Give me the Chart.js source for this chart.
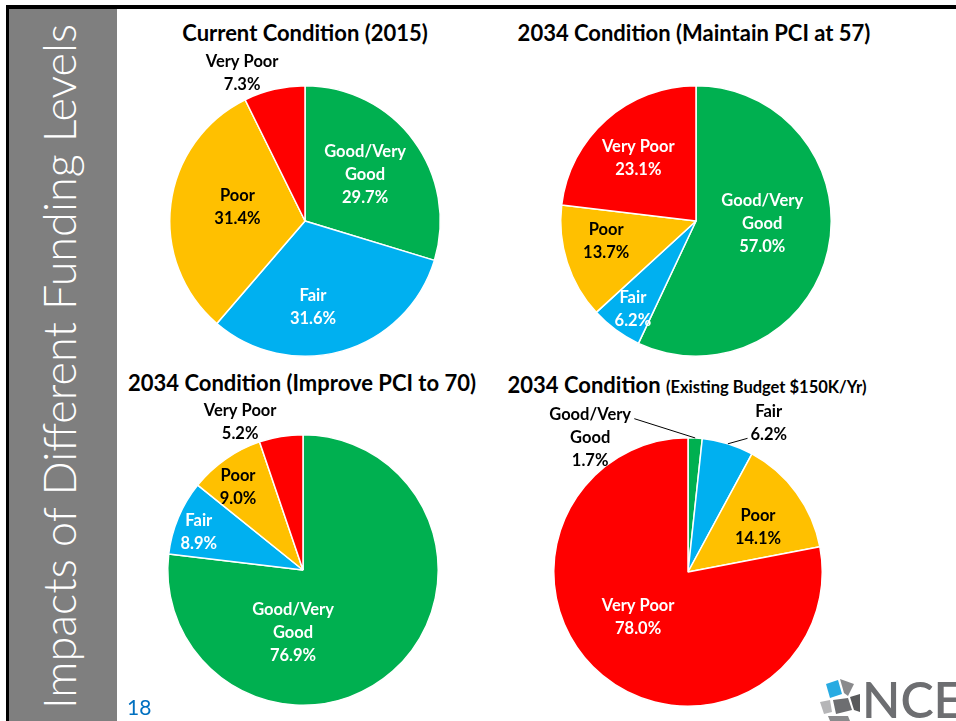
<!DOCTYPE html>
<html>
<head>
<meta charset="utf-8">
<script src="https://cdn.jsdelivr.net/npm/chart.js@4.4.1/dist/chart.umd.min.js"></script>
<style>
  html, body { margin: 0; padding: 0; }
  body { width: 956px; height: 721px; position: relative; overflow: hidden; background: #fff; font-family: Lato, "Open Sans", sans-serif; }
  .frame-top { position: absolute; left: 6px; top: 5px; width: 950px; height: 4px; background: #000; }
  .frame-left { position: absolute; left: 6px; top: 5px; width: 3px; height: 716px; background: #000; }
  .sidebar { position: absolute; left: 9px; top: 9px; width: 108px; height: 712px; background: #7f7f7f; }
  .side-text { position: absolute; left: 0; top: 0; width: 721px; white-space: nowrap; text-align: center;
    color: #fff; font-weight: 300; font-size: 45px; line-height: 45px;
    transform-origin: 0 0; transform: translate(37px, 727px) rotate(-90deg); }
  .title { position: absolute; transform: translateX(-50%); white-space: nowrap; font-weight: bold; font-size: 22px; color: #000; }
  .title small { font-size: 16.5px; }
  canvas { position: absolute; }
  .page { position: absolute; left: 127px; top: 694px; color: #0070c0; font-size: 21px; }
  .logo { position: absolute; left: 818px; top: 676px; }
</style>
</head>
<body>
<div class="frame-top"></div>
<div class="frame-left"></div>
<div class="sidebar"></div>
<div class="side-text">Impacts of Different Funding Levels</div>

<div class="title" style="left:305px; top:19px;">Current Condition (2015)</div>
<div class="title" style="left:694px; top:19px;">2034 Condition (Maintain PCI at 57)</div>
<div class="title" style="left:302px; top:369px;">2034 Condition (Improve PCI to 70)</div>
<div class="title" style="left:687px; top:371px;">2034 Condition <small>(Existing Budget $150K/Yr)</small></div>

<canvas id="pie1" width="420" height="360"></canvas>
<canvas id="pie2" width="420" height="360"></canvas>
<canvas id="pie3" width="420" height="360"></canvas>
<canvas id="pie4" width="420" height="360"></canvas>

<div class="page">18</div>
<svg class="logo" width="140" height="45" viewBox="0 0 140 45">
  <polygon points="8,8 20,4 24,18 12,22" fill="#29abe2"/>
  <polygon points="22,3 36,8 30,20 26,17" fill="#8a8a8c"/>
  <polygon points="2,26 12,24 14,36 6,38" fill="#b5b5b7"/>
  <polygon points="15,24 30,22 34,34 18,38" fill="#6d6e71"/>
  <polygon points="32,21 42,18 42,36 36,34" fill="#58595b"/>
  <polygon points="10,40 30,40 32,45 12,45" fill="#8a8a8c"/>
  <text x="44" y="42" font-family="Lato, sans-serif" font-size="50" font-weight="600" fill="#6d6e71">NCE</text>
</svg>

<script>
const categories = ['Good/Very Good', 'Fair', 'Poor', 'Very Poor'];
const current2015 = [29.7, 31.6, 31.4, 7.3];
const maintain57 = [57.0, 6.2, 13.7, 23.1];
const improve70 = [76.9, 8.9, 9.0, 5.2];
const existingBudget = [1.7, 6.2, 14.1, 78.0];
const sliceColors = ['#00B050', '#00B0F0', '#FFC000', '#FF0000'];

// label placement: angle (deg clockwise from 12 o'clock) and distance as a fraction of radius
const place1 = [{ a: 52.5, f: 0.56 }, { a: 174.7, f: 0.64 }, { a: 281.6, f: 0.51 }, { a: 337, f: 1.19, out: true }];
const place2 = [{ a: 92.6, f: 0.49 }, { a: 215.7, f: 0.80 }, { a: 257.6, f: 0.68 }, { a: 317.4, f: 0.63 }];
const place3 = [{ a: 189, f: 0.47 }, { a: 290, f: 0.82 }, { a: 322, f: 0.78 }, { a: 337, f: 1.19, out: true }];
const place4 = [
    { a: 324, f: 1.24, out: true, lead: { a: 340.7, f: 1.21 } },
    { a: 28.5, f: 1.26, out: true, lead: { a: 24, f: 1.09 } },
    { a: 57.3, f: 0.62 },
    { a: 228, f: 0.50 }
];

const wrap = (name) => name.includes('/') ? name.split(' ') : [name];

const sliceLabels = {
    id: 'sliceLabels',
    afterDatasetsDraw(chart, args, opts) {
        const ctx = chart.ctx;
        const meta = chart.getDatasetMeta(0);
        const values = chart.data.datasets[0].data;
        ctx.save();
        ctx.font = 'bold 16.5px Lato, sans-serif';
        ctx.textAlign = 'center';
        ctx.textBaseline = 'middle';
        meta.data.forEach((arc, i) => {
            const p = opts.place[i];
            const r = arc.outerRadius;
            const ang = (p.a - 90) * Math.PI / 180;
            const x = arc.x + Math.cos(ang) * r * p.f;
            const y = arc.y + Math.sin(ang) * r * p.f;
            if (p.lead) {
                const mid = (arc.startAngle + arc.endAngle) / 2;
                const la = (p.lead.a - 90) * Math.PI / 180;
                ctx.strokeStyle = '#000';
                ctx.lineWidth = 1;
                ctx.beginPath();
                ctx.moveTo(arc.x + Math.cos(mid) * r, arc.y + Math.sin(mid) * r);
                ctx.lineTo(arc.x + Math.cos(la) * r * p.lead.f, arc.y + Math.sin(la) * r * p.lead.f);
                ctx.stroke();
            }
            const lines = wrap(chart.data.labels[i]).concat([values[i].toFixed(1) + '%']);
            ctx.fillStyle = (p.out || i === 2) ? '#000' : '#fff';
            const lh = 23;
            lines.forEach((t, k) => {
                ctx.fillText(t, x, y + (k - (lines.length - 1) / 2) * lh);
            });
        });
        ctx.restore();
    }
};

function makePie(id, values, place, cx, cy, r) {
    const canvas = document.getElementById(id);
    canvas.style.left = (cx - 210) + 'px';
    canvas.style.top = (cy - 190) + 'px';
    return new Chart(canvas.getContext('2d'), {
        type: 'pie',
        data: {
            labels: categories,
            datasets: [{
                data: values,
                backgroundColor: sliceColors,
                borderColor: '#ffffff',
                borderWidth: 1.5
            }]
        },
        options: {
            responsive: false,
            animation: false,
            layout: { padding: { left: 210 - r, right: 210 - r, top: 190 - r, bottom: 170 - r } },
            plugins: {
                legend: { display: false },
                tooltip: { enabled: false },
                sliceLabels: { place: place }
            }
        },
        plugins: [sliceLabels]
    });
}

makePie('pie1', current2015, place1, 305, 221, 136);
makePie('pie2', maintain57, place2, 696, 221, 136);
makePie('pie3', improve70, place3, 303, 570, 136);
makePie('pie4', existingBudget, place4, 688, 572, 135);
</script>
</body>
</html>
